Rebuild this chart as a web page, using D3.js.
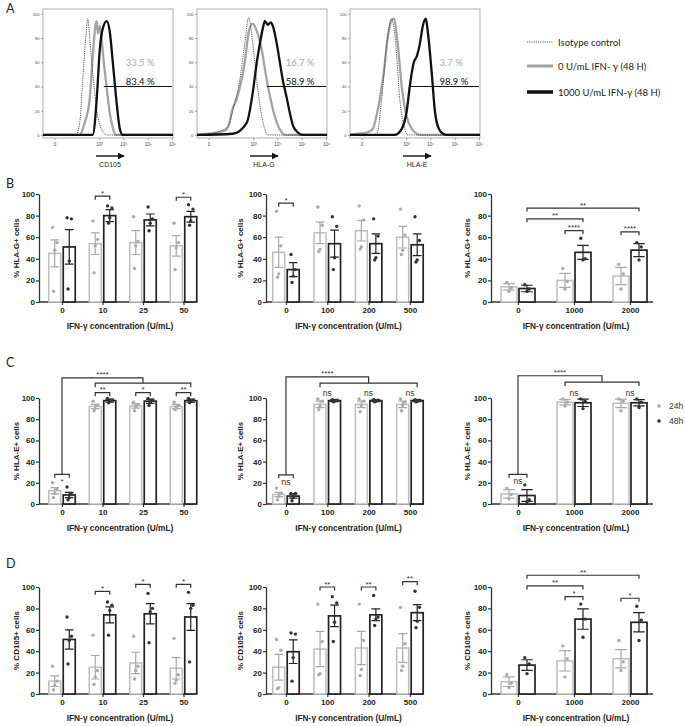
<!DOCTYPE html>
<html><head><meta charset="utf-8">
<script src="https://cdn.jsdelivr.net/npm/d3@7"></script>
<style>body{margin:0;background:#fff}svg{display:block}</style>
</head><body>
<script>
// ================= DATA =================
// ---- Panel A: flow cytometry histograms (intensity, % of max) ----
const flowMarkers = ["CD105", "HLA-G", "HLA-E"];
const flowPctGray = ["33.5 %", "16.7 %", "3.7 %"];
const flowPctBlack = ["83.4 %", "58.9 %", "98.9 %"];
const flowGateStart = [1560, 3685, 1290];
const flowGateEnd = 1e6;
const flowGateLevel = 40;
const flowTickValues = [0, 1e3, 1e4, 1e5, 1e6];
const flowTickLabels = ["0", "10³", "10⁴", "10⁵", "10⁶"];
const flowYTicks = [0, 20, 40, 60, 80, 100];
const legendLabels = ["Isotype control", "0 U/mL IFN- γ (48 H)", "1000 U/mL IFN-γ (48 H)"];

const cd105Iso = [[-30,0],[95,0],[146,10],[199,45],[270,80],[330,96],[402,80],[489,60],[654,35],[875,15],[1416,3],[2080,0],[1.1e6,0]];
const cd105Gray = [[-30,0],[146,0],[244,10],[402,30],[538,65],[721,92],[794,94],[875,84],[1060,90],[1168,85],[1560,60],[2080,38],[2770,18],[3685,6],[4900,0],[1.1e6,0]];
const cd105Black = [[-30,0],[538,0],[794,30],[1060,70],[1416,88],[2080,94],[2770,85],[3685,60],[5400,25],[7180,5],[9550,0],[1.1e6,0]];

const hlaGIso = [[-30,0],[0,1],[17,2],[85,8],[132,20],[270,45],[443,75],[654,97],[963,75],[1416,45],[1890,25],[3045,5],[4050,0],[1.1e6,0]];
const hlaGGray = [[-30,0],[0,1],[60,4],[85,8],[132,22],[199,30],[443,60],[654,85],[940,92],[1416,86],[2286,70],[3685,45],[5940,25],[9550,10],[15360,2],[20430,0],[1.1e6,0]];
const hlaGBlack = [[-30,0],[132,1],[538,10],[963,35],[1416,60],[1890,75],[2516,88],[3045,94],[4050,91],[5400,93],[6525,90],[9550,75],[12700,60],[16890,45],[24700,30],[32870,18],[43700,8],[70200,2],[102600,0],[1.1e6,0]];

const hlaEIso = [[-30,0],[47,0],[85,30],[146,75],[244,96],[364,75],[538,30],[875,5],[1168,0],[1.1e6,0]];
const hlaEGray = [[-30,0],[-8,1],[9,2],[28,5],[53,20],[105,50],[162,80],[244,95],[298,96],[443,75],[654,40],[1060,15],[1716,5],[2770,1],[3685,0],[1.1e6,0]];
const hlaEBlack = [[-30,0],[330,0],[654,5],[1060,20],[1416,40],[2080,60],[2770,65],[3685,75],[4900,90],[6525,96],[7890,85],[11540,50],[15360,20],[20430,7],[32870,1],[48050,0],[1.1e6,0]];

// ---- Bar charts ----
const yTicks = [0, 20, 40, 60, 80, 100];
const doses1 = ["0", "10", "25", "50"];
const doses2 = ["0", "100", "200", "500"];
const doses3 = ["0", "1000", "2000"];
const seriesLabels = ["24h", "48h"];
const xTitle = "IFN-γ concentration (U/mL)";

// B: % HLA-G+ cells
const hlaG1GrayMean = [45, 54, 55, 52];
const hlaG1GraySem = [12.5, 10, 11, 9.5];
const hlaG1GrayPts = [[69,55,48,10],[75,58,52,27],[79,56,52,31],[73,55,50,30]];
const hlaG1BlackMean = [51, 80, 76, 79];
const hlaG1BlackSem = [16, 5.5, 5.5, 5];
const hlaG1BlackPts = [[78,77,38,12],[89,87,78,73],[88,77,73,66],[90,86,75,71]];

const hlaG2GrayMean = [46, 64, 66, 60];
const hlaG2GraySem = [14, 10, 9.5, 10];
const hlaG2GrayPts = [[84,52,26,23],[88,71,49,47],[89,76,51,49],[86,62,48,44]];
const hlaG2BlackMean = [30, 54, 54, 53];
const hlaG2BlackSem = [6.5, 12.5, 9, 10];
const hlaG2BlackPts = [[44,30,24,18],[79,70,41,30],[77,61,41,39],[79,57,39,37]];

const hlaG3GrayMean = [14, 20, 24];
const hlaG3GraySem = [3, 6.5, 8];
const hlaG3GrayPts = [[18,13,10],[31,19,12],[35,26,12]];
const hlaG3BlackMean = [12.5, 46, 48];
const hlaG3BlackSem = [3, 6.5, 6];
const hlaG3BlackPts = [[16,12,10],[59,40,39],[55,51,39]];

// C: % HLA-E+ cells
const hlaE1GrayMean = [12.5, 92, 92.5, 92];
const hlaE1GraySem = [3, 2, 2, 2];
const hlaE1GrayPts = [[20,14,10,6],[97,93,90,88],[96,94,92,88],[96,93,91,89]];
const hlaE1BlackMean = [8.5, 97.5, 97, 97.5];
const hlaE1BlackSem = [2.5, 1.5, 2, 1.5];
const hlaE1BlackPts = [[16,9,6,4],[99.5,98,97,95.5],[99.5,98,96,93],[99.5,98,97,95.5]];

const hlaE2GrayMean = [9, 94, 94, 94];
const hlaE2GraySem = [2, 3, 3, 3];
const hlaE2GrayPts = [[15,10,7,4],[99,97,92,89],[99,97,93,87],[99,96,93,88]];
const hlaE2BlackMean = [7.5, 97.5, 97.5, 97.5];
const hlaE2BlackSem = [2, 1, 1, 1];
const hlaE2BlackPts = [[10,10,6,3],[98.5,98,97,96.5],[98.5,98,97,96.5],[98.5,98,97,96.5]];

const hlaE3GrayMean = [9.5, 96, 95];
const hlaE3GraySem = [4, 2.5, 4];
const hlaE3GrayPts = [[15,9,5],[99,96,92.5],[99,97,88]];
const hlaE3BlackMean = [8, 95.5, 95.5];
const hlaE3BlackSem = [5.5, 3.5, 3];
const hlaE3BlackPts = [[18,4,2],[99,97,90],[99,96,91]];

// D: % CD105+ cells
const cd1GrayMean = [12, 25, 29, 24];
const cd1GraySem = [5, 11, 10, 10];
const cd1GrayPts = [[26,12,8,4],[55,22,16,9],[54,26,22,14],[52,18,13,10]];
const cd1BlackMean = [51, 74, 75, 72];
const cd1BlackSem = [9, 7.5, 9.5, 12.5];
const cd1BlackPts = [[72,54,50,28],[86,83,78,55],[94,80,77,48],[95,83,80,30]];

const cd2GrayMean = [25, 42, 43, 43];
const cd2GraySem = [12, 16.5, 15.5, 13.5];
const cd2GrayPts = [[51,41,6,5],[84,49,19,18],[84,50,23,17],[81,47,26,22]];
const cd2BlackMean = [39.5, 73, 74, 76];
const cd2BlackSem = [11, 10, 5.5, 7.5];
const cd2BlackPts = [[57,56,34,12],[91,85,67,49],[92,72,70,64],[96,81,68,62]];

const cd3GrayMean = [11.5, 31, 33];
const cd3GraySem = [4.5, 9.5, 8.5];
const cd3GrayPts = [[18,10,6],[45,33,16],[50,30,22]];
const cd3BlackMean = [27, 70, 67];
const cd3BlackSem = [5, 9.5, 9];
const cd3BlackPts = [[34,28,19],[84,70,53],[82,69,50]];

// Significance annotations: [category, series(0=24h,1=48h)], level (% units), label
const sigB1 = [{a:["10",0],b:["10",1],v:98,t:"*"},{a:["50",0],b:["50",1],v:97,t:"*"}];
const sigB2 = [{a:["0",0],b:["0",1],v:91.5,t:"*"}];
const sigB3 = [{a:["0",1],b:["2000",1],v:87,t:"**"},{a:["0",1],b:["1000",1],v:77,t:"**"},
               {a:["1000",0],b:["1000",1],v:66,t:"****"},{a:["2000",0],b:["2000",1],v:65,t:"****"}];
const sigC1 = [{a:["10",0],b:["10",1],v:105,t:"**"},{a:["25",0],b:["25",1],v:105,t:"*"},{a:["50",0],b:["50",1],v:105,t:"**"}];
const sigC2 = [];
const sigC3 = [];
const nsC2 = [{cat:"100",v:102,t:"ns"},{cat:"200",v:102,t:"ns"},{cat:"500",v:102,t:"ns"}];
const nsC3 = [{cat:"1000",v:102,t:"ns"},{cat:"2000",v:102,t:"ns"}];
const elbowC1 = {small:{a:["0",0],b:["0",1],v:28,t:"*"},top:119,wide:{a:["10",0],b:["50",1],v:114},t:"****"};
const elbowC2 = {small:{a:["0",0],b:["0",1],v:27.5,t:"ns"},top:120,wide:{a:["100",0],b:["500",1],v:114},t:"****"};
const elbowC3 = {small:{a:["0",0],b:["0",1],v:28,t:"ns"},top:121,wide:{a:["1000",0],b:["2000",1],v:115},t:"****"};
const sigD1 = [{a:["10",0],b:["10",1],v:96,t:"*"},{a:["25",0],b:["25",1],v:102.5,t:"*"},{a:["50",0],b:["50",1],v:102.5,t:"*"}];
const sigD2 = [{a:["100",0],b:["100",1],v:100,t:"**"},{a:["200",0],b:["200",1],v:100,t:"**"},{a:["500",0],b:["500",1],v:105,t:"**"}];
const sigD3 = [{a:["0",1],b:["2000",1],v:111,t:"**"},{a:["0",1],b:["1000",1],v:101,t:"**"},
               {a:["1000",0],b:["1000",1],v:91,t:"*"},{a:["2000",0],b:["2000",1],v:89.5,t:"*"}];

// ================= DRAWING =================
const FB = "'Liberation Sans', Arial, Helvetica, sans-serif";
const FA = "Lato, 'Open Sans', sans-serif";
const svg = d3.select("body").append("svg").attr("width", 685).attr("height", 726);

// Panel letters
[["A",6,13],["B",6,188],["C",6,367],["D",6,568]].forEach(([t,x,y]) =>
  svg.append("text").attr("x",x).attr("y",y).attr("font-family",FA).attr("font-size",12.5).attr("fill","#222").text(t));

// ---------- Panel A ----------
const flowZero = [55, 209, 362];
const flowSets = [[cd105Iso, cd105Gray, cd105Black],[hlaGIso, hlaGGray, hlaGBlack],[hlaEIso, hlaEGray, hlaEBlack]];
const flowTextX = [12700, 22000, 24000];
svg.append("defs").append("marker").attr("id","arr").attr("viewBox","0 0 10 10").attr("refX",9).attr("refY",5)
  .attr("markerWidth",5).attr("markerHeight",5).attr("orient","auto")
  .append("path").attr("d","M0,0L10,5L0,10z").attr("fill","#111");

flowSets.forEach((set, i) => {
  const z = flowZero[i];
  const left = z - 12, right = z + 118, top = 9, bottom = 138;
  const x = d3.scaleSymlog().constant(15).domain([-30, 1.1e6]).range([left, right]);
  const y = d3.scaleLinear().domain([-2.5, 104]).range([bottom, top]);
  const g = svg.append("g");
  g.append("rect").attr("x",left).attr("y",top).attr("width",right-left).attr("height",bottom-top)
    .attr("fill","none").attr("stroke","#9a9a9a").attr("stroke-width",0.8);
  const ya = g.append("g").attr("transform",`translate(${left},0)`)
    .call(d3.axisLeft(y).tickValues(flowYTicks).tickSize(2).tickPadding(1.5));
  ya.select(".domain").remove();
  ya.selectAll("line").attr("stroke","#555").attr("stroke-width",0.5);
  ya.selectAll("text").attr("font-family",FB).attr("font-size",4).attr("fill","#444");
  const xa = g.append("g").attr("transform",`translate(0,${bottom})`)
    .call(d3.axisBottom(x).tickValues(flowTickValues).tickFormat((d,j)=>flowTickLabels[j]).tickSize(2).tickPadding(3));
  xa.select(".domain").remove();
  xa.selectAll("line").attr("stroke","#555").attr("stroke-width",0.5);
  xa.selectAll("text").attr("font-family",FB).attr("font-size",4.5).attr("fill","#444");
  const line = d3.line().x(d=>x(d[0])).y(d=>y(d[1])).curve(d3.curveMonotoneX);
  g.append("path").datum(set[1]).attr("d",line).attr("fill","none").attr("stroke","#a3a3a3").attr("stroke-width",2.3);
  g.append("path").datum(set[0]).attr("d",line).attr("fill","none").attr("stroke","#444").attr("stroke-width",0.9).attr("stroke-dasharray","1.2,1");
  g.append("path").datum(set[2]).attr("d",line).attr("fill","none").attr("stroke","#111").attr("stroke-width",2.3);
  g.append("line").attr("x1",x(flowGateStart[i])).attr("x2",x(flowGateEnd)).attr("y1",y(flowGateLevel)).attr("y2",y(flowGateLevel))
    .attr("stroke","#111").attr("stroke-width",1.1);
  g.append("text").attr("x",x(flowTextX[i])).attr("y",y(57)).attr("font-family",FA).attr("font-size",9.5).attr("fill","#a8a8a8").text(flowPctGray[i]);
  g.append("text").attr("x",x(flowTextX[i])).attr("y",y(41)).attr("font-family",FA).attr("font-size",9.5).attr("fill","#111").text(flowPctBlack[i]);
  g.append("line").attr("x1",z+41).attr("x2",z+69).attr("y1",156).attr("y2",156).attr("stroke","#111").attr("stroke-width",1.4).attr("marker-end","url(#arr)");
  g.append("text").attr("x",z+55).attr("y",167).attr("text-anchor","middle").attr("font-family",FB).attr("font-size",7).attr("fill","#222").text(flowMarkers[i]);
});
// Legend A
const legY = [42, 66, 92];
const legStyle = [{c:"#444",w:0.9,d:"1.2,1"},{c:"#a3a3a3",w:3,d:null},{c:"#111",w:3.5,d:null}];
legendLabels.forEach((t,i) => {
  const l = svg.append("line").attr("x1",527).attr("x2",553).attr("y1",legY[i]).attr("y2",legY[i])
    .attr("stroke",legStyle[i].c).attr("stroke-width",legStyle[i].w);
  if (legStyle[i].d) l.attr("stroke-dasharray",legStyle[i].d);
  svg.append("text").attr("x",558).attr("y",legY[i]+3.5).attr("font-family",FA).attr("font-size",9.5).attr("fill","#222").text(t);
});

// ---------- Bar charts ----------
const rows = {B:{y0:302,y100:194}, C:{y0:504,y100:398}, D:{y0:694,y100:587}};
const cols = [
  {ax:39, xEnd:193, range:[41.75,203.75], bw:12, gap:2.5, ytx:16},
  {ax:266, xEnd:423, range:[265.3,430.6], bw:12, gap:2.5, ytx:240},
  {ax:491, xEnd:653, range:[490,658], bw:16, gap:2, ytx:467}
];
const jitter = [-2.2, 2.2, 0, -1.2];
const GRAY = "#bdbdbd", GRAYDOT = "#aaaaaa", DARK = "#222";

function barChart(o) {
  const R = rows[o.row], C = cols[o.col];
  const y = d3.scaleLinear().domain([0,100]).range([R.y0, R.y100]);
  const x = d3.scalePoint().domain(o.cats).range(C.range).padding(0.5);
  const off = C.bw/2 + C.gap/2;
  const cx = (cat, s) => x(cat) + (s === 0 ? -off : off);
  const g = svg.append("g");
  // axes
  const ya = g.append("g").attr("transform",`translate(${C.ax},0)`)
    .call(d3.axisLeft(y).tickValues(yTicks).tickSize(3).tickSizeOuter(0).tickPadding(1));
  ya.select(".domain").attr("stroke","#333").attr("stroke-width",1.3);
  ya.selectAll(".tick line").attr("stroke","#333").attr("stroke-width",1.2);
  ya.selectAll("text").attr("font-family",FB).attr("font-weight",700).attr("font-size",8).attr("fill","#222");
  const xa = g.append("g").attr("transform",`translate(0,${R.y0})`)
    .call(d3.axisBottom(x).tickSize(3).tickSizeOuter(0).tickPadding(2.5));
  xa.select(".domain").remove();
  xa.selectAll(".tick line").attr("stroke","#333").attr("stroke-width",1.2);
  xa.selectAll("text").attr("font-family",FB).attr("font-weight",700).attr("font-size",8).attr("fill","#222");
  g.append("line").attr("x1",C.ax).attr("x2",C.xEnd).attr("y1",R.y0).attr("y2",R.y0).attr("stroke","#333").attr("stroke-width",1.3);
  // titles
  g.append("text").attr("transform",`translate(${C.ytx},${(R.y0+R.y100)/2}) rotate(-90)`)
    .attr("text-anchor","middle").attr("dominant-baseline","central")
    .attr("font-family",FB).attr("font-weight",700).attr("font-size",8).attr("fill","#222").text(o.ytitle);
  g.append("text").attr("x",(C.ax + C.xEnd)/2 + 4).attr("y",R.y0+27).attr("text-anchor","middle")
    .attr("font-family",FB).attr("font-weight",700).attr("font-size",8.3).attr("fill","#222").text(xTitle);
  // bars
  const series = [
    {mean:o.gMean, sem:o.gSem, pts:o.gPts, stroke:GRAY, sw:1.5, dot:GRAYDOT, eb:"#a8a8a8"},
    {mean:o.bMean, sem:o.bSem, pts:o.bPts, stroke:DARK, sw:1.7, dot:"#333", eb:"#222"}
  ];
  series.forEach((s, si) => {
    const data = o.cats.map((c,i)=>({c, m:s.mean[i], e:s.sem[i], p:s.pts[i]}));
    g.selectAll(null).data(data).enter().append("rect")
      .attr("x",d=>cx(d.c,si)-C.bw/2).attr("width",C.bw)
      .attr("y",d=>y(d.m)).attr("height",d=>R.y0 - y(d.m))
      .attr("fill","#fff").attr("stroke",s.stroke).attr("stroke-width",s.sw);
    const cap = C.bw*0.36;
    data.forEach(d => {
      const xc = cx(d.c,si);
      g.append("path").attr("d",`M${xc},${y(d.m+d.e)}V${y(d.m-d.e)}M${xc-cap},${y(d.m+d.e)}H${xc+cap}M${xc-cap},${y(d.m-d.e)}H${xc+cap}`)
        .attr("stroke",s.eb).attr("stroke-width",1.2).attr("fill","none");
      g.selectAll(null).data(d.p).enter().append("circle")
        .attr("cx",(v,k)=>xc + jitter[k]).attr("cy",v=>y(v)).attr("r",1.7).attr("fill",s.dot);
    });
  });
  // significance brackets
  const txt = (xx, yy, t) => g.append("text").attr("x",xx).attr("y",yy).attr("text-anchor","middle")
      .attr("font-family",FB).attr("font-size",t==="ns"?8.5:8).attr("fill","#333").text(t);
  (o.sig||[]).forEach(s => {
    const xa1 = cx(s.a[0],s.a[1]), xb1 = cx(s.b[0],s.b[1]), yy = y(s.v);
    g.append("path").attr("d",`M${xa1},${yy+3.5}V${yy}H${xb1}V${yy+3.5}`).attr("fill","none").attr("stroke","#333").attr("stroke-width",1.2);
    txt((xa1+xb1)/2, yy-0.5, s.t);
  });
  (o.ns||[]).forEach(s => txt(x(s.cat), y(s.v), s.t));
  if (o.elbow) {
    const e = o.elbow;
    const sa = cx(e.small.a[0],e.small.a[1]), sb = cx(e.small.b[0],e.small.b[1]), sy = y(e.small.v);
    const wa = cx(e.wide.a[0],e.wide.a[1]), wb = cx(e.wide.b[0],e.wide.b[1]), wy = y(e.wide.v);
    const sm = (sa+sb)/2, wm = (wa+wb)/2, ty = y(e.top);
    g.append("path").attr("d",`M${sa},${sy+3.5}V${sy}H${sb}V${sy+3.5}M${sm},${sy}V${ty}H${wm}V${wy}M${wa},${wy+4}V${wy}H${wb}V${wy+4}`)
      .attr("fill","none").attr("stroke","#333").attr("stroke-width",1.2);
    txt(sm, sy+10, e.small.t);
    txt((sm+wm)/2, ty-0.5, e.t);
  }
  return {x, y};
}

barChart({row:"B",col:0,cats:doses1,ytitle:"% HLA-G+ cells",gMean:hlaG1GrayMean,gSem:hlaG1GraySem,gPts:hlaG1GrayPts,bMean:hlaG1BlackMean,bSem:hlaG1BlackSem,bPts:hlaG1BlackPts,sig:sigB1});
barChart({row:"B",col:1,cats:doses2,ytitle:"% HLA-G+ cells",gMean:hlaG2GrayMean,gSem:hlaG2GraySem,gPts:hlaG2GrayPts,bMean:hlaG2BlackMean,bSem:hlaG2BlackSem,bPts:hlaG2BlackPts,sig:sigB2});
barChart({row:"B",col:2,cats:doses3,ytitle:"% HLA-G+ cells",gMean:hlaG3GrayMean,gSem:hlaG3GraySem,gPts:hlaG3GrayPts,bMean:hlaG3BlackMean,bSem:hlaG3BlackSem,bPts:hlaG3BlackPts,sig:sigB3});
barChart({row:"C",col:0,cats:doses1,ytitle:"% HLA-E+ cells",gMean:hlaE1GrayMean,gSem:hlaE1GraySem,gPts:hlaE1GrayPts,bMean:hlaE1BlackMean,bSem:hlaE1BlackSem,bPts:hlaE1BlackPts,sig:sigC1,elbow:elbowC1});
barChart({row:"C",col:1,cats:doses2,ytitle:"% HLA-E+ cells",gMean:hlaE2GrayMean,gSem:hlaE2GraySem,gPts:hlaE2GrayPts,bMean:hlaE2BlackMean,bSem:hlaE2BlackSem,bPts:hlaE2BlackPts,sig:sigC2,ns:nsC2,elbow:elbowC2});
barChart({row:"C",col:2,cats:doses3,ytitle:"% HLA-E+ cells",gMean:hlaE3GrayMean,gSem:hlaE3GraySem,gPts:hlaE3GrayPts,bMean:hlaE3BlackMean,bSem:hlaE3BlackSem,bPts:hlaE3BlackPts,sig:sigC3,ns:nsC3,elbow:elbowC3});
barChart({row:"D",col:0,cats:doses1,ytitle:"% CD105+ cells",gMean:cd1GrayMean,gSem:cd1GraySem,gPts:cd1GrayPts,bMean:cd1BlackMean,bSem:cd1BlackSem,bPts:cd1BlackPts,sig:sigD1});
barChart({row:"D",col:1,cats:doses2,ytitle:"% CD105+ cells",gMean:cd2GrayMean,gSem:cd2GraySem,gPts:cd2GrayPts,bMean:cd2BlackMean,bSem:cd2BlackSem,bPts:cd2BlackPts,sig:sigD2});
barChart({row:"D",col:2,cats:doses3,ytitle:"% CD105+ cells",gMean:cd3GrayMean,gSem:cd3GraySem,gPts:cd3GrayPts,bMean:cd3BlackMean,bSem:cd3BlackSem,bPts:cd3BlackPts,sig:sigD3});

// Legend (C row, right)
const legDots = [{c:GRAYDOT,y:406},{c:"#333",y:421}];
seriesLabels.forEach((t,i) => {
  svg.append("circle").attr("cx",659).attr("cy",legDots[i].y).attr("r",1.8).attr("fill",legDots[i].c);
  svg.append("text").attr("x",669).attr("y",legDots[i].y+3).attr("font-family",FB).attr("font-size",8.5).attr("fill","#333").text(t);
});
</script>
</body></html>
